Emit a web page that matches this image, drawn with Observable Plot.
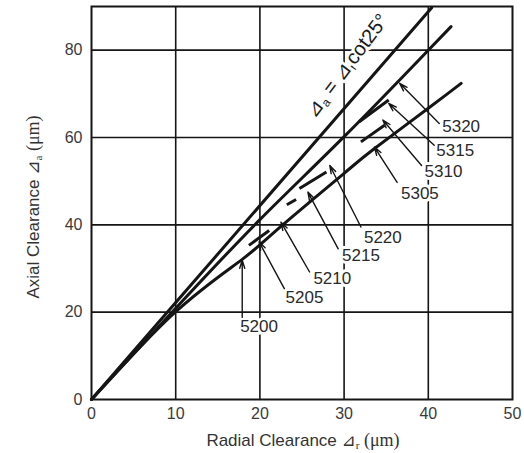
<!DOCTYPE html>
<html><head><meta charset="utf-8">
<script src="https://cdn.jsdelivr.net/npm/d3@7"></script>
<script src="https://cdn.jsdelivr.net/npm/@observablehq/plot@0.6"></script>
<style>body{margin:0;background:#fff} svg{display:block}</style>
</head><body><div id="chart"></div>
<script>
// tick values
const xTicks = [0, 10, 20, 30, 40, 50];
const yTicks = [0, 20, 40, 60, 80];
// reference line  Δa = Δr cot25°
const cotX = [0, 40.4];
const cotY = [0, 89.7];
// upper solid curve
const upperX = [0, 10, 20, 30, 40, 42.7];
const upperY = [0, 20.9, 41.2, 60.2, 80.0, 85.4];
// lower solid curve
const lowerX = [0, 10, 17.9, 22.6, 30, 33.5, 40, 43.9];
const lowerY = [0, 20.1, 32.1, 39.8, 51.8, 57.3, 66.7, 72.4];
// short dash segments between the curves
const segX1 = [18.7, 23.2, 24.7, 31.8, 32.0];
const segY1 = [35.3, 44.6, 48.3, 63.6, 59.0];
const segX2 = [21.1, 24.3, 27.9, 35.3, 34.8];
const segY2 = [38.7, 45.8, 52.1, 68.6, 62.8];
// bearing labels, arrow starts and arrow tips
const labels = ["5200", "5205", "5210", "5215", "5220", "5305", "5310", "5315", "5320"];
const labelX = [19.9, 25.3, 28.6, 32.0, 34.6, 39.0, 41.8, 43.2, 43.9];
const labelY = [16.6, 23.4, 27.7, 33.0, 37.2, 47.2, 52.1, 57.1, 62.4];
const fromX = [17.9, 22.9, 25.9, 29.3, 32.0, 36.3, 39.2, 40.7, 41.3];
const fromY = [18.8, 25.4, 29.2, 34.5, 39.5, 49.7, 53.6, 58.2, 63.2];
const tipX = [17.9, 19.9, 22.5, 25.7, 28.3, 33.6, 34.6, 35.3, 36.6];
const tipY = [31.9, 36.1, 40.6, 47.5, 53.6, 57.8, 64.0, 67.8, 72.4];

const toPts = (xs, ys) => xs.map((x, i) => ({x, y: ys[i]}));
const segs = segX1.map((x1, i) => ({x1, y1: segY1[i], x2: segX2[i], y2: segY2[i]}));
const notes = labels.map((t, i) => ({t, lx: labelX[i], ly: labelY[i], fx: fromX[i], fy: fromY[i], tx: tipX[i], ty: tipY[i]}));

const ink = "#151515";
const plot = Plot.plot({
  width: 524, height: 453,
  marginLeft: 91, marginRight: 12, marginTop: 6, marginBottom: 54,
  style: {fontFamily: "Liberation Sans, Arial, sans-serif", fontSize: "16px", color: "#333", background: "#fff"},
  x: {domain: [0, 50]},
  y: {domain: [0, 90]},
  marks: [
    Plot.gridX(xTicks.slice(1, -1), {stroke: ink, strokeOpacity: 1, strokeWidth: 1.6}),
    Plot.gridY(yTicks.slice(1), {stroke: ink, strokeOpacity: 1, strokeWidth: 1.6}),
    Plot.frame({stroke: ink, strokeWidth: 2}),
    Plot.axisX(xTicks, {tickSize: 0, tickPadding: 8, label: null, fontSize: 16, fill: "#3a3a3a"}),
    Plot.axisY(yTicks, {tickSize: 0, tickPadding: 9, label: null, fontSize: 16, fill: "#3a3a3a"}),
    Plot.line(toPts(cotX, cotY), {x: "x", y: "y", stroke: ink, strokeWidth: 3}),
    Plot.line(toPts(upperX, upperY), {x: "x", y: "y", stroke: ink, strokeWidth: 3, curve: "natural"}),
    Plot.line(toPts(lowerX, lowerY), {x: "x", y: "y", stroke: ink, strokeWidth: 3, curve: "natural"}),
    Plot.link(segs, {x1: "x1", y1: "y1", x2: "x2", y2: "y2", stroke: ink, strokeWidth: 3}),
    Plot.text(notes, {x: "lx", y: "ly", text: "t", fontSize: 17, fill: "#2a2a2a", stroke: "white", strokeWidth: 6, fontFamily: "Liberation Sans, Arial, sans-serif"}),
    Plot.arrow(notes, {x1: "fx", y1: "fy", x2: "tx", y2: "ty", stroke: ink, strokeWidth: 1.4, headLength: 9, headAngle: 35})
  ]
});

const svg = d3.select(plot);
const sx = plot.scale("x"), sy = plot.scale("y");
// axis titles with subscripts
const xt = svg.append("text").attr("x", 303).attr("y", 446).attr("text-anchor", "middle")
  .attr("font-size", 17).attr("fill", "#333").attr("font-family", "Liberation Sans, Arial, sans-serif");
xt.append("tspan").text("Radial Clearance ");
xt.append("tspan").attr("font-style", "italic").attr("font-family", "DejaVu Sans").text("⊿");
xt.append("tspan").attr("font-size", 11).attr("dy", 3).attr("font-family", "Liberation Serif").text("r");
xt.append("tspan").attr("dy", -3).attr("font-family", "Liberation Serif").attr("font-size", 18).text(" (μm)");

const yt = svg.append("text").attr("transform", "translate(39,207) rotate(-90)").attr("text-anchor", "middle")
  .attr("font-size", 17).attr("fill", "#333").attr("font-family", "Liberation Sans, Arial, sans-serif");
yt.append("tspan").text("Axial Clearance ");
yt.append("tspan").attr("font-style", "italic").attr("font-family", "DejaVu Sans").text("⊿");
yt.append("tspan").attr("font-size", 11).attr("dy", 3).attr("font-family", "Liberation Serif").text("a");
yt.append("tspan").attr("dy", -3).attr("font-family", "Liberation Serif").attr("font-size", 18).text(" (μm)");

// rotated equation along the reference line; halo breaks the grid but sits under the curves
const firstLine = plot.querySelector('g[aria-label="line"]');
const eq = svg.insert("text", () => firstLine)
  .attr("transform", `translate(${sx.apply(31.0)},${sy.apply(75.4)}) rotate(-53)`)
  .attr("text-anchor", "middle").attr("font-size", 20).attr("fill", "#1a1a1a")
  .attr("stroke", "white").attr("stroke-width", 6).attr("paint-order", "stroke").attr("stroke-linejoin", "round")
  .attr("font-family", "Liberation Sans, Arial, sans-serif");
eq.append("tspan").attr("font-family", "DejaVu Sans").text("⊿");
eq.append("tspan").attr("font-size", 12).attr("dy", 3).text("a");
eq.append("tspan").attr("dy", -3).text(" = ");
eq.append("tspan").attr("font-family", "DejaVu Sans").text("⊿");
eq.append("tspan").attr("font-size", 12).attr("dy", 3).text("r");
eq.append("tspan").attr("dy", -3).text("cot25°");

document.getElementById("chart").appendChild(plot);
</script>
</body></html>
